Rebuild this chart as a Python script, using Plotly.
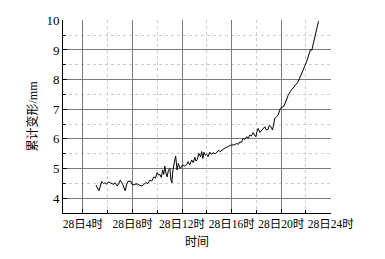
import plotly.graph_objects as go

hours = [5.05, 5.29, 5.51, 5.65, 5.77, 5.90, 6.04, 6.25, 6.44, 6.60, 6.77, 6.90, 7.01, 7.20, 7.41, 7.52,
         7.63, 7.85, 8.01, 8.20, 8.38, 8.55, 8.76, 8.92, 9.08, 9.25, 9.40, 9.55, 9.73, 9.85, 9.99, 10.10,
         10.21, 10.32, 10.43, 10.52, 10.61, 10.70, 10.80, 10.90, 11.02, 11.10, 11.18, 11.26, 11.34, 11.42,
         11.48, 11.60, 11.70, 11.85, 11.96, 12.05, 12.23, 12.35, 12.49, 12.62, 12.77, 12.90, 13.03, 13.12,
         13.22, 13.35, 13.49, 13.58, 13.68, 13.76, 13.88, 13.98, 14.10, 14.24, 14.35, 14.51, 14.70, 14.91,
         15.10, 15.31, 15.50, 15.72, 15.85, 15.99, 16.20, 16.40, 16.55, 16.66, 16.80, 16.93, 17.05, 17.20,
         17.35, 17.47, 17.60, 17.73, 17.85, 17.95, 18.05, 18.14, 18.28, 18.41, 18.55, 18.68, 18.80, 18.94,
         19.04, 19.14, 19.30, 19.48, 19.62, 19.75, 19.94, 20.08, 20.21, 20.40, 20.56, 20.75, 20.96, 21.15,
         21.36, 21.50, 21.64, 21.78, 21.90, 22.05, 22.17, 22.28, 22.36, 22.47, 22.55, 22.63, 22.72, 22.79,
         22.90, 23.01]
deform = [4.44, 4.25, 4.56, 4.50, 4.52, 4.47, 4.55, 4.50, 4.47, 4.52, 4.41, 4.50, 4.61, 4.47, 4.25, 4.45,
          4.56, 4.58, 4.44, 4.47, 4.48, 4.44, 4.41, 4.47, 4.52, 4.50, 4.61, 4.58, 4.72, 4.68, 4.86, 4.78,
          4.80, 4.70, 4.95, 4.80, 5.08, 4.85, 4.72, 4.95, 5.00, 4.61, 4.52, 4.95, 5.18, 5.29,
          5.42, 4.95, 5.17, 5.00, 5.06, 5.12, 5.08, 5.12, 5.23, 5.12, 5.29, 5.20, 5.38, 5.25,
          5.30, 5.51, 5.40, 5.57, 5.34, 5.55, 5.45, 5.48, 5.40, 5.55, 5.48, 5.53, 5.50, 5.60,
          5.58, 5.66, 5.70, 5.74, 5.78, 5.79, 5.80, 5.84, 5.82, 5.90, 5.88, 6.02, 5.98, 6.07,
          6.03, 6.13, 6.10, 6.21, 6.12, 6.07, 6.25, 6.35, 6.22, 6.28, 6.38, 6.41, 6.30, 6.32,
          6.45, 6.43, 6.30, 6.69, 6.75, 6.80, 7.03, 7.06, 7.10, 7.28, 7.47, 7.60, 7.73, 7.82,
          7.92, 8.05, 8.21, 8.32, 8.43, 8.60, 8.76, 8.92, 9.01, 8.99, 9.15, 9.33, 9.45, 9.55,
          9.77, 9.97]

x_tickvals = [4, 8, 12, 16, 20, 24]
x_ticktext = ["28日4时", "28日8时", "28日12时", "28日16时", "28日20时", "28日24时"]
y_tickvals = [4, 5, 6, 7, 8, 9, 10]

FONT = "Liberation Serif, Noto Sans CJK SC, serif"

fig = go.Figure()
fig.add_trace(go.Scatter(x=hours, y=deform, mode="lines",
                         line=dict(color="black", width=1), showlegend=False))

fig.update_layout(
    template="none",
    width=385, height=259,
    margin=dict(l=63, r=54, t=20, b=46),
    paper_bgcolor="white", plot_bgcolor="white",
    font=dict(family=FONT, color="black", size=12),
    xaxis=dict(
        range=[2.39, 24.02], tickvals=x_tickvals, ticktext=x_ticktext, tickangle=0,
        ticks="inside", ticklen=4, tickcolor="black", tickwidth=1,
        showline=True, linecolor="black", linewidth=1,
        showgrid=True, gridcolor="#7a7a7a", gridwidth=1,
        zeroline=False, tickfont=dict(family=FONT, size=11.5, color="black"),
        minor=dict(tickvals=[6, 10, 14, 18, 22], ticks="inside", ticklen=3, tickcolor="black",
                   showgrid=True, gridcolor="#cccccc", griddash="dot", gridwidth=1),
        title=dict(text="时间", font=dict(family=FONT, size=12, color="black"), standoff=8),
    ),
    yaxis=dict(
        range=[3.5, 10.01], tickvals=y_tickvals,
        ticks="inside", ticklen=4, tickcolor="black", tickwidth=1,
        showline=True, linecolor="black", linewidth=1,
        showgrid=True, gridcolor="#7a7a7a", gridwidth=1,
        zeroline=False, tickfont=dict(family=FONT, size=13, color="black"),
        minor=dict(tickvals=[3.5, 4.5, 5.5, 6.5, 7.5, 8.5, 9.5], ticks="inside", ticklen=3, tickcolor="black",
                   showgrid=True, gridcolor="#cccccc", griddash="dot", gridwidth=1),
        title=dict(text="累计变形/mm", font=dict(family=FONT, size=12, color="black"), standoff=6),
    ),
)

fig.write_html("out.html")
